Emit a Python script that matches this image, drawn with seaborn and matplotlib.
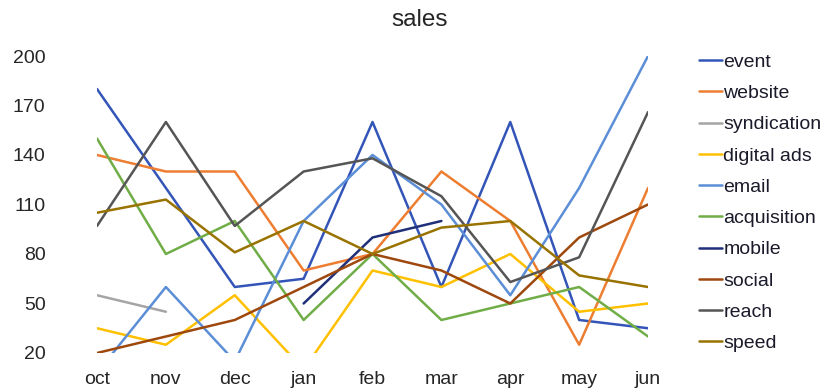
import numpy as np
import pandas as pd
import matplotlib
matplotlib.use("Agg")
import matplotlib.pyplot as plt
import seaborn as sns

months = ["oct", "nov", "dec", "jan", "feb", "mar", "apr", "may", "jun"]
nan = np.nan

event = [180, 120, 60, 65, 160, 60, 160, 40, 35]
website = [140, 130, 130, 70, 80, 130, 100, 25, 120]
syndication = [55, 45, nan, nan, nan, nan, nan, nan, nan]
digital_ads = [35, 25, 55, 10, 70, 60, 80, 45, 50]
email = [8, 60, 15, 100, 140, 110, 55, 120, 200]
acquisition = [150, 80, 100, 40, 80, 40, 50, 60, 30]
mobile = [nan, nan, nan, 50, 90, 100, nan, nan, nan]
social = [20, 30, 40, 60, 80, 70, 50, 90, 110]
reach = [97, 160, 97, 130, 138, 115, 63, 78, 166]
speed = [105, 113, 81, 100, 80, 96, 100, 67, 60]

series_names = ["event", "website", "syndication", "digital ads", "email",
                "acquisition", "mobile", "social", "reach", "speed"]
series_values = [event, website, syndication, digital_ads, email,
                 acquisition, mobile, social, reach, speed]
colors = ["#3455B8", "#ED7D31", "#A5A5A5", "#FFC000", "#5B8ED6",
          "#70AD47", "#1F2F78", "#9E480E", "#555555", "#997300"]

y_ticks = [20, 50, 80, 110, 140, 170, 200]

rows = []
for name, vals in zip(series_names, series_values):
    for i, (m, v) in enumerate(zip(months, vals)):
        rows.append({"pos": i, "month": m, "series": name, "value": v})
df = pd.DataFrame(rows).dropna()

sns.set_theme(style="white")
plt.rcParams["font.family"] = ["Liberation Sans", "DejaVu Sans"]

fig = plt.figure(figsize=(8.27, 3.90), dpi=100)
ax = fig.add_axes([0.1173, 0.0949, 0.6663, 0.7615])

sns.lineplot(data=df, x="pos", y="value", hue="series",
             hue_order=series_names, palette=dict(zip(series_names, colors)),
             sort=False, linewidth=1.8, ax=ax, estimator=None)

ax.set_xlim(0, len(months) - 1)
ax.set_ylim(20, 200)
ax.set_xticks(range(len(months)))
ax.set_xticklabels(months)
ax.set_yticks(y_ticks)
ax.set_xlabel("")
ax.set_ylabel("")
for s in ax.spines.values():
    s.set_visible(False)
ax.tick_params(axis="both", length=0, labelsize=14, colors="#262626")
ax.tick_params(axis="y", pad=37)
ax.tick_params(axis="x", pad=13)
fig.suptitle("sales", x=420 / 827, y=0.976, fontsize=17.5, color="#262626")

leg = ax.legend(loc="upper left", bbox_to_anchor=(1.079, 1.035), frameon=False,
                fontsize=14, handlelength=1.15, handletextpad=0.08,
                labelspacing=0.70, borderaxespad=0)
for t in leg.get_texts():
    t.set_color("#1a1a2a")
for h in leg.get_lines():
    h.set_linewidth(1.8)

fig.savefig("out.png", dpi=100)
